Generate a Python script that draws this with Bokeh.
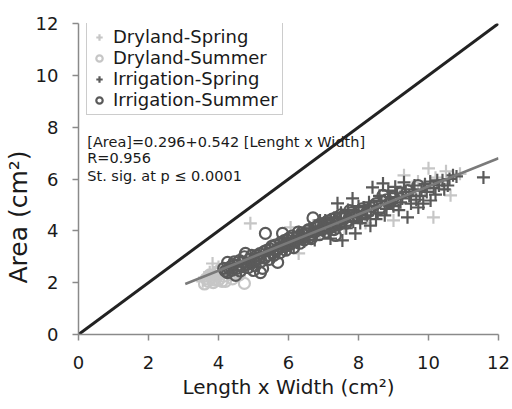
from bokeh.plotting import figure
from bokeh.models import Range1d, Legend, LegendItem, Label, FixedTicker, Title
from bokeh.embed import file_html
from bokeh.resources import INLINE

# ---------------- data ----------------
dry_spring_x = [3.55, 3.70, 3.83, 3.95, 4.10, 4.25, 4.40, 4.91, 5.30, 5.70, 6.06, 6.29, 6.50, 6.90,
                7.20, 7.60, 8.00, 8.40, 8.80, 9.00, 9.30, 9.60, 9.90, 10.00, 10.14, 10.40, 10.63, 10.90,
                3.60, 3.75, 3.90, 4.00, 4.15, 4.30, 4.50, 4.70, 5.00, 5.50, 5.90, 6.70, 7.40, 7.80,
                8.20, 8.60, 9.20, 9.70, 10.20, 10.50]
dry_spring_y = [2.05, 2.25, 2.74, 2.15, 2.45, 2.30, 2.60, 4.29, 3.10, 3.40, 4.13, 3.13, 3.65, 3.95,
                4.20, 4.10, 4.50, 4.85, 5.00, 4.40, 6.14, 5.30, 5.60, 6.41, 4.52, 5.80, 5.37, 6.20,
                2.20, 2.40, 2.30, 2.60, 2.35, 2.55, 2.50, 2.80, 2.85, 3.45, 3.30, 4.20, 4.45, 4.75,
                4.30, 5.20, 5.50, 5.90, 6.05, 6.30]

dry_summer_x = [3.60, 3.70, 3.80, 3.85, 3.95, 4.00, 4.05, 4.15, 4.20, 4.30, 4.40, 4.50, 4.55, 4.74,
                4.85, 5.10, 5.60, 3.65, 3.75, 3.90, 4.00, 4.10, 4.25, 4.35, 4.45, 4.60, 4.70]
dry_summer_y = [1.95, 2.05, 2.20, 2.00, 2.35, 2.10, 2.50, 2.25, 2.05, 2.40, 2.15, 2.45, 2.60, 1.97,
                2.80, 3.00, 3.35, 2.15, 2.30, 2.10, 2.40, 2.05, 2.55, 2.30, 2.35, 2.30, 2.65]

irr_spring_x = [5.60, 5.85, 6.00, 6.15, 6.30, 6.45, 6.60, 6.80, 6.90, 7.00, 7.10, 7.20, 7.30, 7.40,
                7.45, 7.54, 7.60, 7.70, 7.83, 7.91, 7.95, 8.05, 8.15, 8.25, 8.34, 8.40, 8.45, 8.55,
                8.65, 8.70, 8.80, 8.90, 9.00, 9.10, 9.20, 9.30, 9.40, 9.45, 9.55, 9.65, 9.71, 9.80,
                9.90, 10.06, 10.15, 10.25, 10.40, 10.55, 10.70, 11.57,
                5.95, 6.10, 6.25, 6.40, 6.55, 6.70, 6.75, 6.85, 7.05, 7.15, 7.25, 7.35, 7.50, 7.65,
                7.75, 7.85, 8.00, 8.10, 8.20, 8.30, 8.50, 8.60, 8.75, 8.85, 8.95, 9.05, 9.15, 9.25,
                9.35, 9.50, 9.60, 9.75, 9.85, 9.95, 10.05, 10.20, 10.30, 10.45, 10.60, 10.80]
irr_spring_y = [3.10, 3.45, 3.70, 3.40, 3.95, 3.60, 4.10, 3.85, 4.40, 4.00, 4.25, 3.70, 4.50, 5.06,
                4.15, 3.63, 4.40, 4.80, 5.25, 3.90, 4.55, 4.30, 4.90, 4.60, 4.20, 5.68, 4.95, 4.70,
                5.15, 5.83, 4.85, 5.30, 4.95, 5.45, 5.10, 5.87, 4.52, 5.35, 5.60, 5.20, 4.90, 5.55,
                5.80, 5.17, 5.65, 5.95, 5.95, 5.75, 6.14, 6.06,
                3.30, 3.62, 3.55, 3.85, 3.78, 4.00, 3.65, 4.15, 4.40, 3.95, 4.30, 4.10, 4.70, 4.10,
                4.55, 4.35, 4.95, 4.50, 4.75, 5.10, 4.45, 5.35, 4.60, 5.55, 5.05, 5.70, 4.80, 5.25,
                5.50, 5.05, 5.75, 5.35, 5.05, 5.50, 5.90, 5.40, 5.75, 5.60, 6.00, 6.10]

irr_summer_x = [4.15, 4.26, 4.26, 4.35, 4.42, 4.49, 4.52, 4.60, 4.68, 4.74, 4.77, 4.80, 4.88, 5.00,
                5.02, 5.10, 5.15, 5.20, 5.26, 5.30, 5.34, 5.40, 5.48, 5.55, 5.62, 5.69, 5.70, 5.78,
                5.83, 5.90, 5.95, 6.05, 6.10, 6.20, 6.28, 6.35, 6.42, 6.54, 6.60, 6.70, 6.75, 6.85,
                6.95, 7.05, 7.15, 7.25, 7.34, 7.40, 7.55, 7.65, 7.80, 7.95, 8.10, 8.30, 8.50, 8.70,
                8.90, 9.20, 9.70,
                4.20, 4.30, 4.38, 4.45, 4.55, 4.62, 4.70, 4.85, 4.92, 4.95, 5.05, 5.08, 5.18, 5.22,
                5.32, 5.38, 5.45, 5.52, 5.58, 5.65, 5.75, 5.80, 5.88, 5.92, 6.00, 6.02, 6.12, 6.15,
                6.25, 6.32, 6.38, 6.45, 6.50, 6.58, 6.65, 6.72, 6.80, 6.88, 6.92, 7.00, 7.08, 7.12,
                7.20, 7.30, 7.35, 7.45, 7.50, 7.60, 7.70, 7.75, 7.85, 8.00, 8.20, 8.40, 8.60, 8.80,
                9.00, 9.40]
irr_summer_y = [2.55, 2.78, 2.39, 2.62, 2.70, 2.28, 2.55, 2.85, 2.62, 3.00, 3.13, 2.70, 2.90, 2.47,
                2.80, 3.05, 2.95, 2.39, 2.55, 3.20, 3.90, 3.05, 3.30, 3.15, 3.45, 2.78, 3.30, 3.55,
                3.90, 3.40, 3.65, 3.50, 3.80, 3.60, 3.95, 3.70, 3.85, 4.00, 3.75, 4.50, 3.95, 4.20,
                4.05, 4.30, 4.10, 4.45, 3.82, 4.35, 4.55, 4.30, 4.70, 4.60, 4.85, 4.75, 5.05, 5.37,
                5.10, 5.45, 5.75,
                2.45, 2.55, 2.48, 2.80, 2.68, 2.45, 2.78, 2.58, 2.75, 3.05, 2.65, 2.92, 3.12, 2.82,
                2.95, 3.25, 2.90, 3.40, 3.05, 3.25, 3.15, 3.38, 3.62, 3.25, 3.45, 3.72, 3.55, 3.35,
                3.75, 3.52, 3.92, 3.65, 3.88, 4.05, 3.70, 3.95, 4.15, 3.85, 4.28, 4.12, 3.95, 4.38,
                4.22, 4.05, 4.50, 4.25, 4.62, 4.48, 4.40, 4.78, 4.52, 4.75, 4.65, 4.95, 4.85, 5.20,
                5.30, 5.55]

series_labels = ["Dryland-Spring", "Dryland-Summer", "Irrigation-Spring", "Irrigation-Summer"]

fit_intercept = 0.296
fit_slope = 0.542
fit_x = [3.05, 12.0]
one_x = [0, 12]

x_ticks = [0, 2, 4, 6, 8, 10, 12]
y_ticks = [0, 2, 4, 6, 8, 10, 12]

annot_lines = ["[Area]=0.296+0.542 [Lenght x Width]", "R=0.956", "St. sig. at p \u2264 0.0001"]
x_title = "Length x Width (cm\u00b2)"
y_title = "Area (cm\u00b2)"

# ---------------- styling ----------------
FONT = "DejaVu Sans"
LIGHT = "#c6c6c6"
DARK = "#5a5a5a"
AXIS = "#8a8a8a"
TXT = "#1a1a1a"

p = figure(width=512, height=409, x_range=Range1d(0, 12), y_range=Range1d(0, 12),
           output_backend="svg", toolbar_location=None,
           min_border_left=78, min_border_right=14, min_border_top=23, min_border_bottom=75)
p.outline_line_color = None
p.grid.visible = False
p.background_fill_color = "white"

for ax, ticks in ((p.xaxis, x_ticks), (p.yaxis, y_ticks)):
    ax.ticker = FixedTicker(ticks=ticks)
    ax.axis_line_color = AXIS
    ax.axis_line_width = 1.5
    ax.major_tick_line_color = AXIS
    ax.major_tick_line_width = 1.5
    ax.major_tick_in = 0
    ax.major_tick_out = 6
    ax.minor_tick_line_color = None
    ax.major_label_text_font = FONT
    ax.major_label_text_font_size = "18px"
    ax.major_label_text_color = TXT
p.xaxis.major_label_standoff = 15
p.yaxis.major_label_standoff = 14

p.xaxis.axis_label = x_title
p.xaxis.axis_label_text_font = FONT
p.xaxis.axis_label_text_font_size = "20px"
p.xaxis.axis_label_text_font_style = "normal"
p.xaxis.axis_label_text_color = TXT
p.xaxis.axis_label_standoff = 3

p.add_layout(Title(text=y_title, align="left", offset=51, standoff=0, text_font=FONT,
                   text_font_size="25px", text_font_style="normal", text_color=TXT), "left")

# annotation text (under the glyphs)
ann_y = [7.41, 6.80, 6.10]
for txt, yy in zip(annot_lines, ann_y):
    p.add_layout(Label(x=0.25, y=yy, text=txt, text_font=FONT, text_font_size="14.5px",
                       text_color=TXT, text_baseline="alphabetic", level="underlay"))

# 1:1 line
p.line(one_x, one_x, line_color="#222222", line_width=3)

r_ds = p.scatter(dry_spring_x, dry_spring_y, marker="cross", size=13, line_width=2.2,
                 line_color=LIGHT)
r_dm = p.scatter(dry_summer_x, dry_summer_y, marker="circle", size=11, line_width=2.2,
                 line_color=LIGHT, fill_color=None)
r_is = p.scatter(irr_spring_x, irr_spring_y, marker="cross", size=13, line_width=2.2,
                 line_color=DARK)
r_im = p.scatter(irr_summer_x, irr_summer_y, marker="circle", size=11, line_width=2.2,
                 line_color=DARK, fill_color=None)

fit_y = [fit_intercept + fit_slope * v for v in fit_x]
p.line(fit_x, fit_y, line_color="#7a7a7a", line_width=2.5)

legend = Legend(items=[LegendItem(label=l, renderers=[r]) for l, r in
                       zip(series_labels, [r_ds, r_dm, r_is, r_im])],
                location=(8, 219), orientation="vertical",
                label_text_font=FONT, label_text_font_size="18px", label_text_color=TXT,
                glyph_width=16, glyph_height=18, label_height=18, label_standoff=6,
                spacing=0, padding=4, margin=0,
                border_line_color="#9a9a9a", border_line_width=1,
                background_fill_color="white", background_fill_alpha=1.0)
p.add_layout(legend, "center")

open("out.html", "w").write(file_html(p, INLINE))
